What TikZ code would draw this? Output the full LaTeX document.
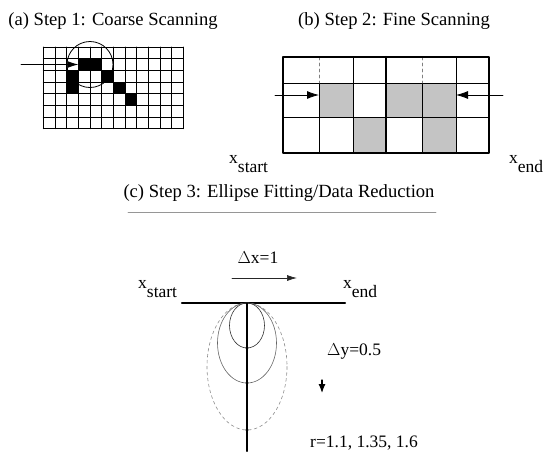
\documentclass[tikz,border=0pt]{standalone}
\usepackage{fontspec}
\setmainfont{Liberation Serif}
\usetikzlibrary{arrows.meta}
\definecolor{Sfill}{RGB}{196,196,196}
\definecolor{Rule}{RGB}{150,150,150}

\begin{document}
\begin{tikzpicture}[x=1pt,y=-1pt,line cap=round,line join=round,
  ttl/.style={font=\fontsize{18.6}{20}\selectfont,anchor=base,inner sep=0pt},
  lbl/.style={font=\fontsize{17.5}{19}\selectfont,anchor=base west,inner sep=0pt},
  gridline/.style={line width=0.9pt},
  thick box/.style={line width=2.4pt},
  scanarrow/.style={line width=0.8pt,-{Latex[length=12pt,width=8pt]}}]
\path[use as bounding box] (0,0) rectangle (546,451);
% titles
\node[ttl] (ttlA) at (113,25) {(a) Step 1: Coarse Scanning};
\node[ttl] (ttlB) at (394,25) {(b) Step 2: Fine Scanning};
\node[ttl] (ttlC) at (279,197) {(c) Step 3: Ellipse Fitting/Data Reduction};
\draw[Rule,line width=0.8pt] (128,212) -- (436,212);
% (a) coarse grid, black cells first
\fill (78.33,58.67) rectangle (101.67,70.33);
\fill (66.67,70.33) rectangle (78.33,93.67);
\fill (101.67,70.33) rectangle (113.33,82.00);
\fill (113.33,82.00) rectangle (125.00,93.67);
\fill (125.00,93.67) rectangle (136.67,105.33);
\draw[gridline] (43.33,47.00) -- (43.33,128.67);
\draw[gridline] (55.00,47.00) -- (55.00,128.67);
\draw[gridline] (66.67,47.00) -- (66.67,128.67);
\draw[gridline] (78.33,47.00) -- (78.33,128.67);
\draw[gridline] (90.00,47.00) -- (90.00,128.67);
\draw[gridline] (101.67,47.00) -- (101.67,128.67);
\draw[gridline] (113.33,47.00) -- (113.33,128.67);
\draw[gridline] (125.00,47.00) -- (125.00,128.67);
\draw[gridline] (136.67,47.00) -- (136.67,128.67);
\draw[gridline] (148.33,47.00) -- (148.33,128.67);
\draw[gridline] (160.00,47.00) -- (160.00,128.67);
\draw[gridline] (171.67,47.00) -- (171.67,128.67);
\draw[gridline] (183.33,47.00) -- (183.33,128.67);
\draw[gridline] (43.33,47.00) -- (183.33,47.00);
\draw[gridline] (43.33,58.67) -- (183.33,58.67);
\draw[gridline] (43.33,70.33) -- (183.33,70.33);
\draw[gridline] (43.33,82.00) -- (183.33,82.00);
\draw[gridline] (43.33,93.67) -- (183.33,93.67);
\draw[gridline] (43.33,105.33) -- (183.33,105.33);
\draw[gridline] (43.33,117.00) -- (183.33,117.00);
\draw[gridline] (43.33,128.67) -- (183.33,128.67);
\draw[line width=0.8pt] (90,64.5) circle[radius=23];
\coordinate (inA) at (21,64.5);
\coordinate (hitA) at (78.33,64.5);
\draw[line width=0.8pt,-{Latex[length=11pt,width=7pt]}] (inA) -- (hitA);
% (b) fine grid
\fill[Sfill] (319,83) rectangle (353,117);
\fill[Sfill] (353,117) rectangle (386,153);
\fill[Sfill] (386,83) rectangle (456,117);
\fill[Sfill] (422,117) rectangle (456,153);
\draw[line width=0.8pt] (283,83) -- (489,83);
\draw[line width=0.8pt] (283,117) -- (489,117);
\draw[line width=0.8pt] (353,57) -- (353,153);
\draw[line width=0.8pt] (456,57) -- (456,153);
\draw[line width=0.8pt] (319,83) -- (319,153);
\draw[line width=0.8pt] (422,83) -- (422,153);
\draw[line width=0.6pt,dashed,gray] (319,57) -- (319,83);
\draw[line width=0.6pt,dashed,gray] (422,57) -- (422,83);
\draw[thick box] (283,57) rectangle (489,153);
\draw[thick box] (386,57) -- (386,153);
\coordinate (inL) at (275,95);
\coordinate (hitL) at (319,95);
\coordinate (inR) at (503,95);
\coordinate (hitR) at (456,95);
\draw[scanarrow] (inL) -- (hitL);
\draw[scanarrow] (inR) -- (hitR);
\node[lbl] (startB) at (229,163) {x\raisebox{-9pt}{start}};
\node[lbl] (endB) at (509,163) {x\raisebox{-9pt}{end}};
% (c) ellipse fitting
\coordinate (top) at (247,303);
\draw[line width=2.4pt] (182,303) -- (345,303);
\draw[black!45,line width=0.6pt,dashed] (247,366.5) ellipse[x radius=40,y radius=63.5];
\draw[black!60,line width=0.6pt] (247,343) ellipse[x radius=29.5,y radius=40];
\draw[black!80,line width=0.6pt] (247,325.5) ellipse[x radius=17.5,y radius=22.5];
\draw[line width=2pt] (top) -- (247,451);
\fill (247,348) circle[radius=1.6];
\fill (247,383) circle[radius=1.6];
\fill (247,430) circle[radius=1.6];
\node[lbl] (startC) at (138,288) {x\raisebox{-9pt}{start}};
\node[lbl] (endC) at (343,288) {x\raisebox{-9pt}{end}};
\node[lbl,anchor=base] (dx) at (258,263) {$\Delta$x=1};
\coordinate (dxFrom) at (232,278);
\coordinate (dxTo) at (297,278);
\draw[black!85,line width=0.7pt,-{Latex[length=10pt,width=6pt]}] (dxFrom) -- (dxTo);
\node[lbl] (dy) at (327,355) {$\Delta$y=0.5};
\coordinate (dyFrom) at (322,380);
\coordinate (dyTo) at (322,393);
\draw[line width=1.2pt,-{Latex[length=9pt,width=7pt]}] (dyFrom) -- (dyTo);
\node[lbl] (ratio) at (310,447) {r=1.1, 1.35, 1.6};
\end{tikzpicture}
\end{document}
